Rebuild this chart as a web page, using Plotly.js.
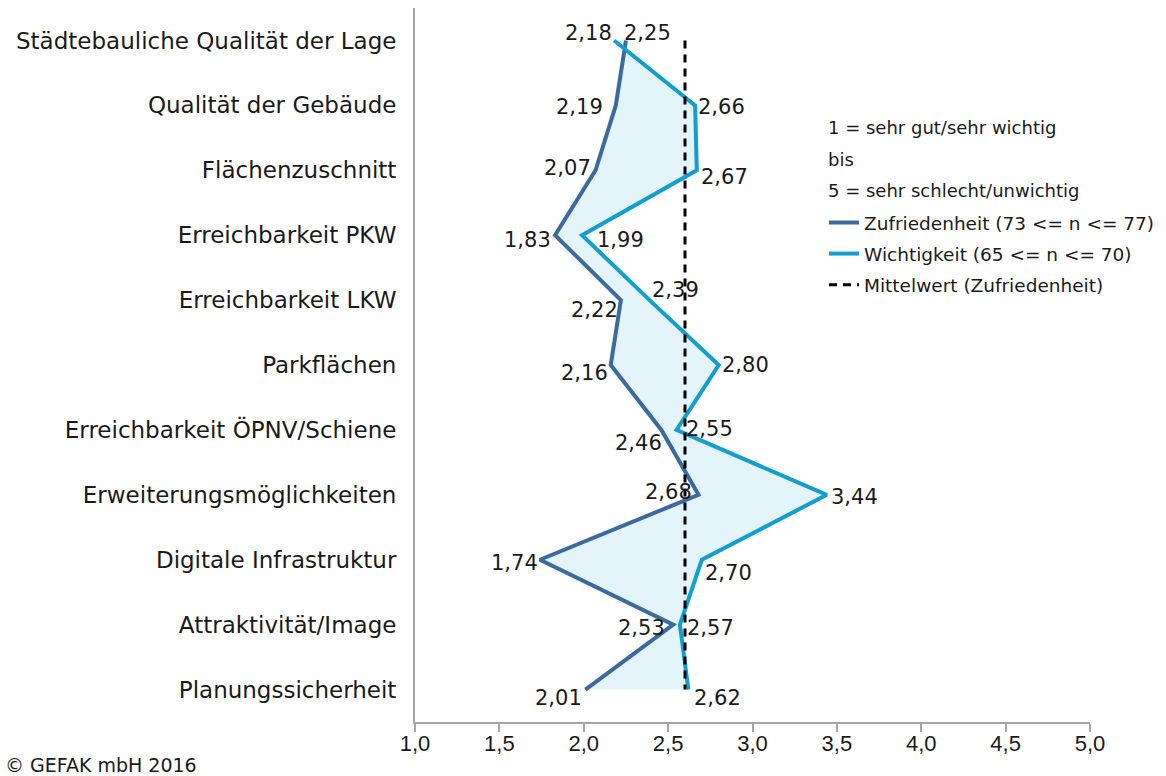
<!DOCTYPE html>
<html>
<head>
<meta charset="utf-8">
<script src="https://cdn.plot.ly/plotly-3.0.1.min.js"></script>
<style>html,body{margin:0;padding:0;background:#fff;}#chart{width:1166px;height:776px;}</style>
</head>
<body>
<div id="chart"></div>
<script>
const categories = [
  "Städtebauliche Qualität der Lage",
  "Qualität der Gebäude",
  "Flächenzuschnitt",
  "Erreichbarkeit PKW",
  "Erreichbarkeit LKW",
  "Parkflächen",
  "Erreichbarkeit ÖPNV/Schiene",
  "Erweiterungsmöglichkeiten",
  "Digitale Infrastruktur",
  "Attraktivität/Image",
  "Planungssicherheit"
];
const zufriedenheit = [2.25, 2.19, 2.07, 1.83, 2.22, 2.16, 2.46, 2.68, 1.74, 2.53, 2.01];
const wichtigkeit   = [2.18, 2.66, 2.67, 1.99, 2.39, 2.80, 2.55, 3.44, 2.70, 2.57, 2.62];
const mittelwert = 2.6;
const xTicks = [1.0, 1.5, 2.0, 2.5, 3.0, 3.5, 4.0, 4.5, 5.0];
const seriesNames = ["Zufriedenheit (73 <= n <= 77)", "Wichtigkeit (65 <= n <= 70)", "Mittelwert (Zufriedenheit)"];
const scaleNotes = ["1 = sehr gut/sehr wichtig", "bis", "5 = sehr schlecht/unwichtig"];
const copyright = "© GEFAK mbH 2016";

const fmt = v => v.toFixed(2).replace('.', ',');

// label placement styles: [anchor, dx, dy] (screen px, dy down-positive)
const darkLabelStyle = [
  ['left', -4, -7], ['right', -11, 2], ['right', -3, -2], ['right', -2, 5], ['right', -1, 10],
  ['right', -1, 8], ['right', 3, 13], ['right', -5, -3], ['right', 0, 3], ['right', -6, 3], ['right', -1, 8]
];
const lightLabelStyle = [
  ['right', 0, -7], ['left', 1, 2], ['left', 2, 7], ['left', 13, 5], ['left', 0, -10],
  ['left', 1, 0], ['left', 7, -1], ['left', 2, 2], ['left', 1, 13], ['left', 5, 3], ['left', 4, 8]
];

const DARK = '#3b6aa0', LIGHT = '#119fd0', FILL = '#e3f4fb';
const FONT = 'DejaVu Sans, sans-serif';

const traces = [
  {
    x: zufriedenheit.concat(wichtigkeit.slice().reverse()),
    y: categories.concat(categories.slice().reverse()),
    type: 'scatter', mode: 'lines', fill: 'toself', fillcolor: FILL,
    line: {width: 0, color: FILL}, showlegend: false, hoverinfo: 'skip'
  },
  {
    x: zufriedenheit, y: categories, type: 'scatter', mode: 'lines',
    name: seriesNames[0], legendgroup: 'a',
    line: {color: DARK, width: 4}
  },
  {
    x: wichtigkeit, y: categories, type: 'scatter', mode: 'lines',
    name: seriesNames[1], legendgroup: 'b',
    line: {color: LIGHT, width: 4}
  },
  {
    x: [mittelwert, mittelwert], y: [categories[0], categories[categories.length-1]],
    type: 'scatter', mode: 'lines', name: seriesNames[2], legendgroup: 'c',
    line: {color: '#000', width: 3, dash: '8px,6px'}
  }
];

const W = 675, H = 714, L = 415, T = 8;
const px = x => (x - L) / W;
const py = y => (T + H - y) / H;

const annotations = [];
function addLabels(values, styles) {
  values.forEach((v, i) => {
    const s = styles[i];
    annotations.push({
      x: v, y: categories[i], xref: 'x', yref: 'y', text: fmt(v), showarrow: false,
      xanchor: s[0], yanchor: 'middle', xshift: s[1], yshift: -s[2],
      font: {family: FONT, size: 21, color: '#1a1a1a'}
    });
  });
}
addLabels(zufriedenheit, darkLabelStyle);
addLabels(wichtigkeit, lightLabelStyle);

scaleNotes.forEach((t, i) => annotations.push({
  text: t, xref: 'paper', yref: 'paper', x: px(826), y: py(128 + 31*i),
  xanchor: 'left', yanchor: 'middle', showarrow: false,
  font: {family: FONT, size: 18, color: '#1a1a1a'}
}));
annotations.push({
  text: copyright, xref: 'paper', yref: 'paper', x: px(3), y: py(765),
  xanchor: 'left', yanchor: 'middle', showarrow: false,
  font: {family: FONT, size: 19, color: '#1a1a1a'}
});

const layout = {
  width: 1166, height: 776,
  margin: {l: 415, r: 76, t: 8, b: 54, autoexpand: false},
  paper_bgcolor: '#fff', plot_bgcolor: '#fff',
  separators: ',.',
  showlegend: true,
  legend: {
    x: px(824), y: py(204), xanchor: 'left', yanchor: 'top',
    traceorder: 'grouped', tracegroupgap: 4,
    font: {family: FONT, size: 18.5, color: '#1a1a1a'},
    bgcolor: 'rgba(0,0,0,0)'
  },
  xaxis: {
    range: [1, 5], tickvals: xTicks, tickformat: '.1f',
    showline: true, linecolor: '#a6a6a6', linewidth: 2,
    ticks: 'outside', ticklen: 8, tickwidth: 2, tickcolor: '#a6a6a6',
    showgrid: false, zeroline: false, ticklabelstandoff: -7,
    tickfont: {family: 'Liberation Sans, Arial, sans-serif', size: 22, color: '#1a1a1a'}
  },
  yaxis: {
    type: 'category', categoryarray: categories, categoryorder: 'array',
    range: [categories.length - 0.5, -0.5],
    showline: true, linecolor: '#a6a6a6', linewidth: 2,
    ticks: '', showgrid: false, zeroline: false, ticklabelstandoff: 12,
    tickfont: {family: FONT, size: 23, color: '#1a1a1a'}
  },
  annotations: annotations
};

Plotly.newPlot('chart', traces, layout, {displayModeBar: false, staticPlot: true});
</script>
</body>
</html>
